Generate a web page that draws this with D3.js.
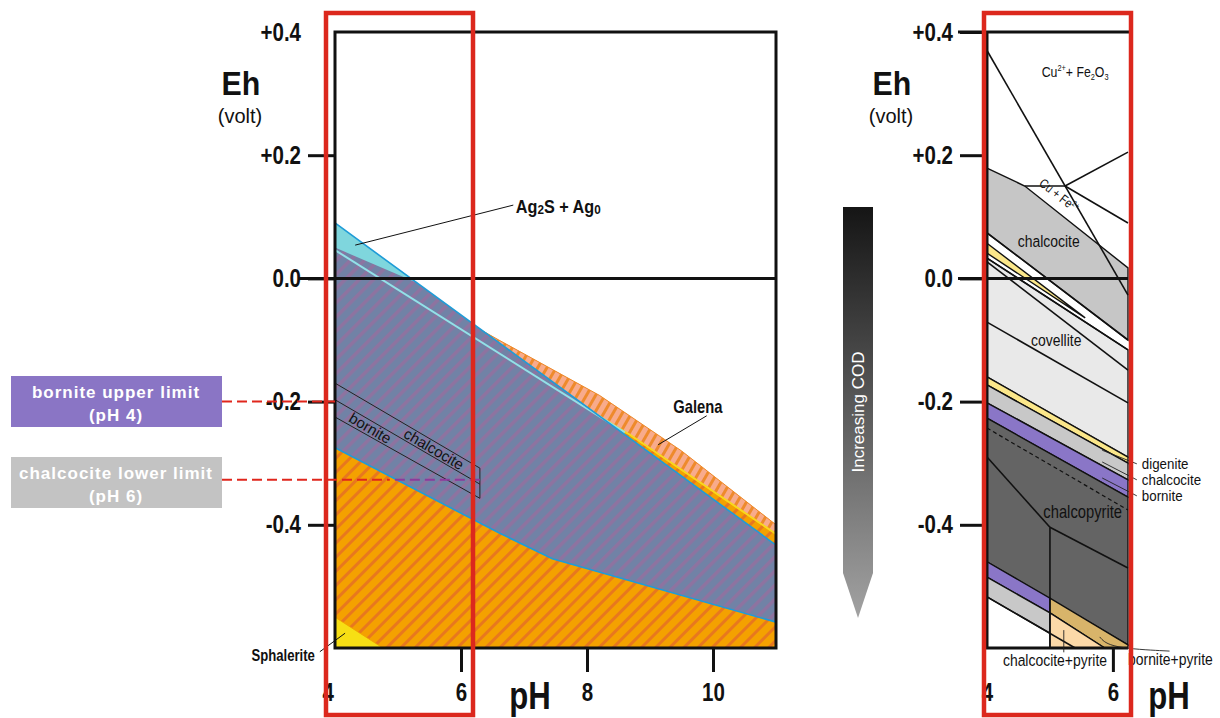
<!DOCTYPE html>
<html>
<head>
<meta charset="utf-8">
<script src="https://cdn.jsdelivr.net/npm/d3@7"></script>
<style>
  body { margin: 0; background: #fff; }
  svg { display: block; }
</style>
</head>
<body>
<svg width="1220" height="718"></svg>
<script>
const FONT = "'Liberation Sans', Arial, sans-serif";
const NARROW_X = 0.82; // horizontal squeeze to mimic a narrow face

// ---------- data: left diagram (pH, Eh in volt) ----------
const ehTicks = [0.4, 0.2, 0.0, -0.2, -0.4];
const phTicksLeft = [4, 6, 8, 10];
const phTicksRight = [4, 6];

const galenaTop = [[4, 0.05], [6.6, -0.10], [8.2, -0.19], [9.5, -0.28], [11, -0.40]];
const galenaBandBottom = [[4, 0.03], [6.6, -0.125], [8.7, -0.255], [11, -0.415]];
const sphalerite = [[4, -0.55], [4.76, -0.6], [4, -0.6]];
const ag2sRegion = [[4, 0.09], [11, -0.433], [11, -0.558], [7.45, -0.455], [6.6, -0.413], [4, -0.275]];
const ag2sCap = [[4, 0.09], [5.32, -0.008], [4, 0.05]];
const ag2sInner = [[4, 0.046], [8.6, -0.25]];
const cuBandLines = [
    [[4, -0.17], [6.3, -0.308]],
    [[4, -0.197], [6.3, -0.334]],
    [[4, -0.225], [6.3, -0.357]]
];
const bornUpperEh = -0.2;
const chalcLowerEh = -0.327;

// ---------- data: right diagram (Cu-Fe-S fields) ----------
const rChalcocite = [[4, 0.179], [4.6, 0.15], [6.24, 0.017], [6.24, -0.1], [4, 0.074]];
const rYellowWedge = [[4, 0.057], [5.56, -0.064], [4, 0.041]];
const rCovellite = [[4, 0.033], [6.24, -0.116], [6.24, -0.29], [4, -0.16]];
const rDigenite = [[4, -0.16], [6.24, -0.29], [6.24, -0.30], [4, -0.173]];
const rChalcBand = [[4, -0.173], [6.24, -0.30], [6.24, -0.327], [4, -0.202]];
const rBornite = [[4, -0.202], [6.24, -0.327], [6.24, -0.355], [4, -0.227]];
const rChalcopyrite = [[4, -0.227], [6.24, -0.355], [6.24, -0.595], [4, -0.46]];
const rBorniteLow = [[4, -0.46], [5, -0.519], [5, -0.543], [4, -0.485]];
const rChalcLow = [[4, -0.485], [5, -0.543], [5, -0.576], [4, -0.517]];
const rBornPyrite = [[5, -0.519], [6.24, -0.595], [6.24, -0.6], [5.87, -0.6], [5, -0.543]];
const rChalcPyrite = [[5, -0.543], [5.87, -0.6], [5, -0.6]];
const rLines = [
    [[4, 0.37], [6.24, -0.027]],
    [[4.6, 0.15], [5.24, 0.15]],
    [[5.24, 0.15], [6.24, 0.205]],
    [[5.24, 0.15], [6.24, 0.09]],
    [[4, 0.074], [6.24, -0.1]],
    [[4, 0.033], [6.24, -0.116]],
    [[4, 0.027], [6.24, -0.149]],
    [[4, -0.071], [6.24, -0.202]],
    [[4, -0.29], [5, -0.404]],
    [[5, -0.404], [6.24, -0.47]],
    [[5, -0.404], [5, -0.6]],
    [[4, -0.517], [5.4, -0.6]]
];
const rDashed = [[4, -0.243], [6.24, -0.376]];

// ---------- scales ----------
const svg = d3.select("svg");
const yEh = d3.scaleLinear().domain([-0.6, 0.4]).range([648, 32]);
const xLeft = d3.scaleLinear().domain([4, 11]).range([335, 776]);
const xRight = d3.scaleLinear().domain([4, 6.24]).range([987, 1128]);

// ---------- patterns ----------
const defs = svg.append("defs");
function hatch(id, bg, fg, angle, gap, w) {
    const p = defs.append("pattern")
        .attr("id", id)
        .attr("patternUnits", "userSpaceOnUse")
        .attr("width", gap).attr("height", gap)
        .attr("patternTransform", `rotate(${angle})`);
    p.append("rect").attr("width", gap).attr("height", gap).attr("fill", bg);
    p.append("rect").attr("width", w).attr("height", gap).attr("fill", fg);
}
hatch("galenaHatch", "#f4a100", "#e8781e", 45, 10, 3);
hatch("pinkHatch", "#f8ab8c", "#ee8a2c", 30, 8, 3);
hatch("agHatch", "#7182a6", "#8e73a0", 45, 10, 3.5);

const grad = defs.append("linearGradient").attr("id", "codGrad")
    .attr("x1", 0).attr("y1", 0).attr("x2", 0).attr("y2", 1);
grad.append("stop").attr("offset", 0).attr("stop-color", "#151515");
grad.append("stop").attr("offset", 1).attr("stop-color", "#a2a2a2");

// ---------- helpers ----------
function path(g, pts, sx, closed) {
    const line = d3.line().x(d => sx(d[0])).y(d => yEh(d[1]));
    return g.append("path").attr("d", line(pts) + (closed ? "Z" : ""));
}

// text in a squeezed narrow style (sx < 1) or normal width (sx = 1)
function label(g, x, y, txt, size, opts) {
    opts = opts || {};
    const sx = opts.sx === undefined ? NARROW_X : opts.sx;
    return g.append("text")
        .attr("transform", `translate(${x},${y}) scale(${sx},1)`)
        .attr("font-family", FONT)
        .attr("font-size", size)
        .attr("font-weight", opts.weight || "normal")
        .attr("text-anchor", opts.anchor || "middle")
        .attr("fill", opts.fill || "#111")
        .text(txt);
}

function squeezeAxisText(g) {
    g.selectAll("text")
        .attr("font-family", FONT).attr("font-size", 25)
        .attr("font-weight", "bold").attr("fill", "#111")
        .attr("transform", function () {
            const x = +this.getAttribute("x") || 0;
            return `translate(${x * (1 - NARROW_X)},0) scale(${NARROW_X},1)`;
        });
}

function yAxis(x0, hideTop) {
    const g = svg.append("g").attr("transform", `translate(${x0},0)`)
        .call(d3.axisLeft(yEh).tickValues(ehTicks).tickSize(27).tickPadding(7)
            .tickFormat(d => (d > 0 ? "+" : "") + d.toFixed(1)));
    g.select(".domain").remove();
    g.selectAll("line").attr("stroke", "#111").attr("stroke-width", 3);
    squeezeAxisText(g);
    if (hideTop) g.selectAll(".tick").filter(d => d === 0.4).select("line").remove();
    return g;
}

function xAxis(sx, values, shiftFour) {
    const g = svg.append("g").attr("transform", `translate(0,${yEh(-0.6)})`)
        .call(d3.axisBottom(sx).tickValues(values).tickSize(24).tickPadding(11)
            .tickFormat(d3.format("d")));
    g.select(".domain").remove();
    g.selectAll("line").attr("stroke", "#111").attr("stroke-width", 3);
    squeezeAxisText(g);
    const four = g.selectAll(".tick").filter(d => d === 4);
    four.select("line").remove();
    if (shiftFour) four.select("text").attr("dx", -9);
    return g;
}

//////////// LEFT DIAGRAM ////////////
const left = svg.append("g");

path(left, galenaTop.concat([[11, -0.6], [4, -0.6]]), xLeft, true)
    .attr("fill", "url(#galenaHatch)");
path(left, galenaTop.concat(galenaBandBottom.slice().reverse()), xLeft, true)
    .attr("fill", "url(#pinkHatch)");
path(left, galenaTop, xLeft, false)
    .attr("fill", "none").attr("stroke", "#ee8a2c").attr("stroke-width", 1);
path(left, galenaBandBottom, xLeft, false)
    .attr("fill", "none").attr("stroke", "#f8d81c").attr("stroke-width", 2);
path(left, sphalerite, xLeft, true)
    .attr("fill", "#f7df14").attr("stroke", "#f0a000").attr("stroke-width", 0.8);

path(left, ag2sRegion, xLeft, true).attr("fill", "url(#agHatch)");
path(left, ag2sCap, xLeft, true).attr("fill", "#7fd6dd");
path(left, ag2sInner, xLeft, false)
    .attr("fill", "none").attr("stroke", "#92e1e8").attr("stroke-width", 2);
path(left, ag2sRegion, xLeft, true)
    .attr("fill", "none").attr("stroke", "#1f9cd7").attr("stroke-width", 1.6);

// thin chalcocite / bornite band
cuBandLines.forEach(l => {
    path(left, l, xLeft, false).attr("fill", "none").attr("stroke", "#222").attr("stroke-width", 1);
});
path(left, [cuBandLines[0][1], cuBandLines[2][1]], xLeft, false)
    .attr("fill", "none").attr("stroke", "#222").attr("stroke-width", 1);

const bandAngle = Math.atan2(
    yEh(cuBandLines[0][1][1]) - yEh(cuBandLines[0][0][1]),
    xLeft(cuBandLines[0][1][0]) - xLeft(cuBandLines[0][0][0])) * 180 / Math.PI;
[["bornite", 4.56, -0.243], ["chalcocite", 5.57, -0.277]].forEach(([t, ph, eh]) => {
    left.append("text")
        .attr("transform", `translate(${xLeft(ph)},${yEh(eh)}) rotate(${bandAngle})`)
        .attr("dy", "0.35em")
        .attr("text-anchor", "middle")
        .attr("font-family", FONT).attr("font-size", 15).attr("fill", "#111")
        .text(t);
});

// zero line and frame
left.append("line")
    .attr("x1", 298).attr("x2", xLeft(11))
    .attr("y1", yEh(0)).attr("y2", yEh(0))
    .attr("stroke", "#111").attr("stroke-width", 3);
left.append("rect")
    .attr("x", xLeft(4)).attr("y", yEh(0.4))
    .attr("width", xLeft(11) - xLeft(4)).attr("height", yEh(-0.6) - yEh(0.4))
    .attr("fill", "none").attr("stroke", "#111").attr("stroke-width", 3);

yAxis(xLeft(4), true);
xAxis(xLeft, phTicksLeft, true);

// annotations
const agText = label(left, xLeft(6.87), yEh(0.106), "", 18, { weight: "bold", anchor: "start", sx: 0.9 });
agText.append("tspan").text("Ag");
agText.append("tspan").attr("font-size", 13).attr("dy", 1).text("2");
agText.append("tspan").attr("dy", -1).text("S + Ag");
agText.append("tspan").attr("font-size", 13).attr("dy", 1).text("0");
path(left, [[6.83, 0.119], [4.32, 0.054]], xLeft, false).attr("stroke", "#111").attr("stroke-width", 1);

label(left, xLeft(9.76), yEh(-0.218), "Galena", 18, { weight: "bold" });
path(left, [[9.9, -0.223], [9.13, -0.27]], xLeft, false).attr("stroke", "#111").attr("stroke-width", 1);

label(left, xLeft(3.68), yEh(-0.621), "Sphalerite", 16, { weight: "bold", anchor: "end" });
path(left, [[3.76, -0.606], [4.16, -0.576]], xLeft, false).attr("stroke", "#111").attr("stroke-width", 1);

// axis titles
label(svg, 241, 95, "Eh", 33, { weight: "bold", sx: 0.92 });
label(svg, 240, 123, "(volt)", 20, { sx: 1 });
label(svg, 530, 709, "pH", 38, { weight: "bold" });

// limit boxes with dashed guides
const boxes = [
    { y: 376, fill: "#8a75c5", lines: ["bornite upper limit", "(pH 4)"] },
    { y: 457, fill: "#c3c3c3", lines: ["chalcocite lower limit", "(pH 6)"] }
];
boxes.forEach(b => {
    svg.append("rect").attr("x", 11).attr("y", b.y).attr("width", 211).attr("height", 51).attr("fill", b.fill);
    b.lines.forEach((t, i) => {
        label(svg, 116, b.y + 22 + i * 23, t, 17, { weight: "bold", fill: "#fff", sx: 1 })
            .attr("letter-spacing", 1);
    });
});
svg.append("line")
    .attr("x1", 222).attr("x2", xLeft(4))
    .attr("y1", yEh(bornUpperEh)).attr("y2", yEh(bornUpperEh))
    .attr("stroke", "#e0261c").attr("stroke-width", 2).attr("stroke-dasharray", "10,5");
svg.append("line")
    .attr("x1", 222).attr("x2", xLeft(4.87))
    .attr("y1", yEh(chalcLowerEh)).attr("y2", yEh(chalcLowerEh))
    .attr("stroke", "#e0261c").attr("stroke-width", 2).attr("stroke-dasharray", "10,5");
svg.append("line")
    .attr("x1", xLeft(4.95)).attr("x2", xLeft(6.3))
    .attr("y1", yEh(chalcLowerEh)).attr("y2", yEh(chalcLowerEh))
    .attr("stroke", "#8c3a9c").attr("stroke-width", 2).attr("stroke-dasharray", "10,5");

//////////// COD ARROW ////////////
svg.append("path")
    .attr("d", "M843,207H873V573L858,618L843,573Z")
    .attr("fill", "url(#codGrad)");
svg.append("text")
    .attr("transform", "translate(858,412) rotate(-90)")
    .attr("dy", "0.35em")
    .attr("text-anchor", "middle")
    .attr("font-family", FONT).attr("font-size", 17).attr("fill", "#fff")
    .text("Increasing COD");

//////////// RIGHT DIAGRAM ////////////
const right = svg.append("g");
[
    [rChalcocite, "#c6c6c6"],
    [rYellowWedge, "#fbe78a"],
    [rCovellite, "#e9e9e9"],
    [rDigenite, "#fbe78a"],
    [rChalcBand, "#c8c8c8"],
    [rBornite, "#8a76c7"],
    [rChalcopyrite, "#646464"],
    [rBorniteLow, "#8a76c7"],
    [rChalcLow, "#c8c8c8"],
    [rBornPyrite, "#d8b46a"],
    [rChalcPyrite, "#fcd9a8"]
].forEach(([pts, c]) => {
    path(right, pts, xRight, true).attr("fill", c)
        .attr("stroke", "#111").attr("stroke-width", 1.4);
});
rLines.forEach(l => {
    path(right, l, xRight, false).attr("fill", "none").attr("stroke", "#111").attr("stroke-width", 1.6);
});
path(right, rDashed, xRight, false)
    .attr("fill", "none").attr("stroke", "#111").attr("stroke-width", 1.2).attr("stroke-dasharray", "4,3");

right.append("line")
    .attr("x1", xRight(4) - 29).attr("x2", xRight(6.24))
    .attr("y1", yEh(0)).attr("y2", yEh(0))
    .attr("stroke", "#111").attr("stroke-width", 3);
right.append("line")
    .attr("x1", xRight(4) - 29).attr("x2", xRight(6.24) + 3)
    .attr("y1", yEh(0.4)).attr("y2", yEh(0.4))
    .attr("stroke", "#111").attr("stroke-width", 3);
right.append("path")
    .attr("d", `M${xRight(4)},${yEh(0.4)}V${yEh(-0.6)}H${xRight(6.24)}`)
    .attr("fill", "none").attr("stroke", "#111").attr("stroke-width", 3);

yAxis(xRight(4), false);
xAxis(xRight, phTicksRight, false);

label(svg, 892, 95, "Eh", 33, { weight: "bold", sx: 0.92 });
label(svg, 891, 123, "(volt)", 20, { sx: 1 });
label(svg, 1169, 709, "pH", 38, { weight: "bold" });

// field labels
const cuTxt = label(right, xRight(5.40), yEh(0.327), "", 15);
cuTxt.append("tspan").text("Cu");
cuTxt.append("tspan").attr("font-size", 9).attr("dy", -6).text("2+");
cuTxt.append("tspan").attr("dy", 6).text("+ Fe");
cuTxt.append("tspan").attr("font-size", 9).attr("dy", 3).text("2");
cuTxt.append("tspan").attr("dy", -3).text("O");
cuTxt.append("tspan").attr("font-size", 9).attr("dy", 3).text("3");

const cuFeAngle = Math.atan2(yEh(0.017) - yEh(0.15), xRight(6.24) - xRight(4.6)) * 180 / Math.PI;
const cuFe = right.append("text")
    .attr("transform", `translate(${xRight(5.10)},${yEh(0.129)}) rotate(${cuFeAngle}) scale(${NARROW_X},1)`)
    .attr("text-anchor", "middle")
    .attr("font-family", FONT).attr("font-size", 13).attr("fill", "#111");
cuFe.append("tspan").text("Cu + Fe");
cuFe.append("tspan").attr("font-size", 8).attr("dy", -5).text("2+");

label(right, xRight(4.98), yEh(0.051), "chalcocite", 17);
label(right, xRight(5.10), yEh(-0.11), "covellite", 17);
label(right, xRight(5.52), yEh(-0.389), "chalcopyrite", 18);
label(right, xRight(5.08), yEh(-0.629), "chalcocite+pyrite", 17);
label(right, xRight(6.24), yEh(-0.628), "bornite+pyrite", 17, { anchor: "start" });

const sideLabels = [
    ["digenite", [[5.83, -0.279], [6.38, -0.301]]],
    ["chalcocite", [[5.83, -0.298], [6.38, -0.327]]],
    ["bornite", [[5.83, -0.324], [6.38, -0.353]]]
];
sideLabels.forEach(([t, pts]) => {
    path(right, pts, xRight, false).attr("stroke", "#222").attr("stroke-width", 0.9);
    label(right, xRight(6.46), yEh(pts[1][1]) + 5, t, 15.5, { anchor: "start", sx: 0.86 });
});
path(right, [[5.22, -0.571], [5.22, -0.607]], xRight, false).attr("stroke", "#222").attr("stroke-width", 0.9);
right.append("path")
    .attr("d", d3.line().curve(d3.curveBasis).x(d => xRight(d[0])).y(d => yEh(d[1]))(
        [[5.79, -0.582], [5.95, -0.6], [6.9, -0.605]]))
    .attr("fill", "none").attr("stroke", "#222").attr("stroke-width", 0.9);

//////////// RED HIGHLIGHT FRAMES ////////////
[326, 984].forEach(x => {
    svg.append("rect")
        .attr("x", x).attr("y", 13).attr("width", 147).attr("height", 702)
        .attr("fill", "none").attr("stroke", "#dc281d").attr("stroke-width", 4.5);
});
</script>
</body>
</html>
